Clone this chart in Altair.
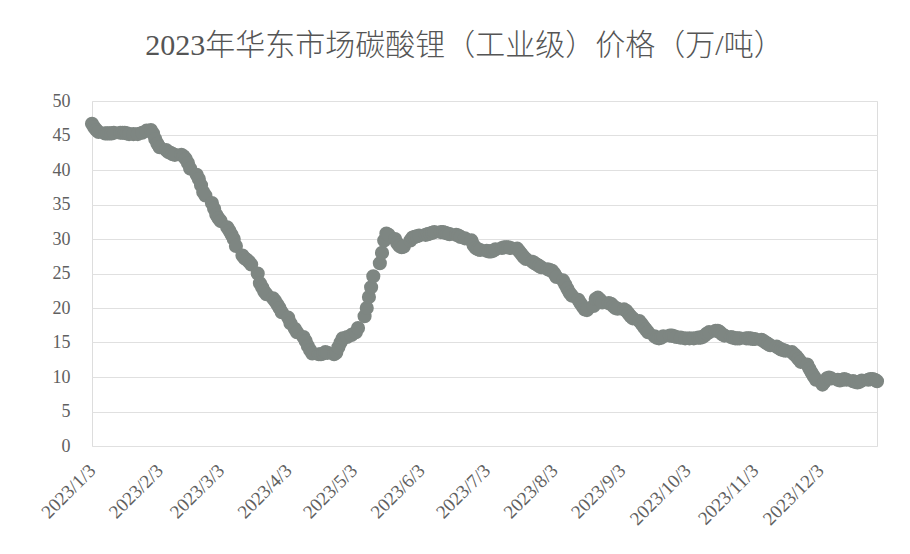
import altair as alt
import pandas as pd

TITLE = "2023年华东市场碳酸锂（工业级）价格（万/吨）"

# days (day of month) and prices (万元/吨) per month
days_01 = [3, 4, 5, 6, 9, 10, 11, 12, 13, 16, 17, 18, 19, 20, 22, 24, 26, 28, 30, 31]
vals_01 = [46.7, 46.2, 45.8, 45.5, 45.3, 45.3, 45.3, 45.3, 45.4, 45.4, 45.4, 45.4, 45.3, 45.2, 45.2, 45.2, 45.4, 45.7, 45.8, 45.3]

days_02 = [1, 2, 3, 6, 7, 8, 9, 10, 13, 14, 15, 16, 17, 20, 21, 22, 23, 24, 27, 28]
vals_02 = [44.5, 43.8, 43.3, 42.9, 42.6, 42.5, 42.3, 42.2, 42.2, 42.0, 41.6, 41.0, 40.2, 39.3, 38.7, 37.8, 36.8, 36.3, 35.2, 34.4]

days_03 = [1, 2, 3, 6, 7, 8, 9, 10, 13, 14, 15, 16, 17, 20, 21, 22, 23, 24, 27, 28, 29, 30, 31]
vals_03 = [33.5, 33.0, 32.6, 31.7, 31.2, 30.6, 30.0, 29.0, 27.6, 27.2, 27.0, 26.7, 26.3, 25.0, 23.6, 23.0, 22.4, 22.0, 21.4, 21.0, 20.5, 20.0, 19.4]

days_04 = [3, 4, 6, 7, 10, 11, 12, 13, 14, 17, 18, 19, 20, 21, 24, 25, 26, 27, 28, 30]
vals_04 = [18.6, 17.8, 17.0, 16.5, 15.8, 15.2, 14.5, 13.9, 13.4, 13.3, 13.3, 13.4, 13.6, 13.5, 13.3, 13.5, 14.3, 15.0, 15.6, 15.8]

days_05 = [2, 4, 5, 8, 9, 10, 11, 12, 15, 16, 17, 18, 19, 22, 23, 24, 25, 26, 29, 30, 31]
vals_05 = [16.1, 16.5, 17.1, 18.8, 20.0, 21.6, 23.0, 24.6, 26.5, 28.0, 29.8, 30.8, 30.6, 30.0, 29.4, 29.0, 28.8, 28.9, 29.8, 30.2, 30.3]

days_06 = [1, 2, 5, 6, 7, 8, 9, 12, 13, 14, 15, 16, 19, 20, 21, 23, 26, 27, 28, 29, 30]
vals_06 = [30.4, 30.5, 30.6, 30.7, 30.8, 30.9, 31.0, 31.0, 31.0, 30.9, 30.8, 30.7, 30.6, 30.5, 30.3, 30.1, 29.8, 29.1, 28.7, 28.5, 28.4]

days_07 = [3, 4, 5, 6, 7, 10, 11, 12, 13, 14, 17, 18, 19, 20, 21, 24, 25, 26, 27, 28, 31]
vals_07 = [28.3, 28.2, 28.2, 28.3, 28.5, 28.7, 28.8, 28.8, 28.8, 28.7, 28.6, 28.2, 27.8, 27.4, 27.1, 26.7, 26.5, 26.3, 26.1, 25.9, 25.6]

days_08 = [1, 2, 3, 4, 7, 8, 9, 10, 11, 14, 15, 16, 17, 18, 21, 22, 23, 24, 25, 28, 29, 30, 31]
vals_08 = [25.5, 25.4, 25.0, 24.5, 24.0, 23.4, 22.8, 22.2, 21.8, 21.2, 20.7, 20.2, 19.8, 19.7, 20.3, 21.3, 21.5, 21.2, 20.8, 20.7, 20.6, 20.3, 20.0]

days_09 = [1, 4, 5, 6, 7, 8, 11, 12, 13, 14, 15, 18, 19, 20, 21, 22, 25, 26, 27, 28, 30]
vals_09 = [19.9, 19.8, 19.6, 19.2, 18.8, 18.5, 18.1, 17.7, 17.3, 16.9, 16.5, 15.9, 15.7, 15.6, 15.7, 15.9, 16.0, 16.0, 15.9, 15.8, 15.7]

days_10 = [2, 4, 6, 8, 9, 10, 11, 12, 13, 16, 17, 18, 19, 20, 23, 24, 25, 26, 27, 30, 31]
vals_10 = [15.6, 15.6, 15.6, 15.7, 15.7, 15.8, 16.0, 16.3, 16.5, 16.7, 16.7, 16.5, 16.2, 16.0, 15.8, 15.7, 15.6, 15.6, 15.6, 15.6, 15.6]

days_11 = [1, 2, 3, 6, 7, 8, 9, 10, 13, 14, 15, 16, 17, 20, 21, 22, 23, 24, 27, 28, 29, 30]
vals_11 = [15.6, 15.5, 15.5, 15.4, 15.2, 15.0, 14.8, 14.6, 14.4, 14.2, 14.0, 13.9, 13.8, 13.6, 13.3, 13.0, 12.6, 12.2, 11.8, 11.2, 10.6, 10.1]

days_12 = [1, 4, 5, 6, 7, 8, 11, 12, 13, 14, 15, 18, 19, 20, 21, 22, 25, 26, 27, 28, 29]
vals_12 = [9.6, 8.9, 9.3, 9.8, 9.9, 9.8, 9.6, 9.5, 9.6, 9.7, 9.6, 9.4, 9.3, 9.2, 9.3, 9.5, 9.6, 9.7, 9.7, 9.6, 9.4]

tick_months = list(range(1, 13))
tick_day = 3
y_ticks = [0, 5, 10, 15, 20, 25, 30, 35, 40, 45, 50]

months = [
    (1, days_01, vals_01), (2, days_02, vals_02), (3, days_03, vals_03),
    (4, days_04, vals_04), (5, days_05, vals_05), (6, days_06, vals_06),
    (7, days_07, vals_07), (8, days_08, vals_08), (9, days_09, vals_09),
    (10, days_10, vals_10), (11, days_11, vals_11), (12, days_12, vals_12),
]
rows = []
for m, ds, vs in months:
    for d, v in zip(ds, vs):
        rows.append({"date": f"2023-{m:02d}-{d:02d}", "price": v})
df = pd.DataFrame(rows)

first = rows[0]["date"].split("-")
last = rows[-1]["date"].split("-")
x_domain = [
    alt.DateTime(year=2023, month=int(first[1]), date=int(first[2]), utc=True),
    alt.DateTime(year=2023, month=int(last[1]), date=int(last[2]), utc=True),
]
x_values = [alt.DateTime(year=2023, month=m, date=tick_day, utc=True) for m in tick_months]

SERIF = "Liberation Serif, Times New Roman, Noto Sans CJK SC"

chart = (
    alt.Chart(df)
    .mark_circle(size=200, opacity=1, color="#7e8682")
    .encode(
        x=alt.X(
            "date:T",
            scale=alt.Scale(type="utc", domain=x_domain),
            axis=alt.Axis(
                values=x_values,
                labelExpr="utcFormat(datum.value, '%Y/%-m/%-d')",
                labelAngle=-45,
                labelAlign="right",
                labelBaseline="middle",
                labelPadding=21,
                labelFontSize=19,
                labelFont=SERIF,
                labelColor="#606060",
                grid=False,
                ticks=False,
                domain=False,
                title=None,
                labelOverlap=False,
                labelBound=False,
            ),
        ),
        y=alt.Y(
            "price:Q",
            scale=alt.Scale(domain=[0, 50], nice=False),
            axis=alt.Axis(
                values=y_ticks,
                labelFontSize=18,
                labelFont=SERIF,
                labelColor="#606060",
                labelPadding=22,
                ticks=False,
                domain=False,
                grid=True,
                gridColor="#e0e0e0",
                gridWidth=1,
                title=None,
            ),
        ),
    )
    .properties(
        width=785,
        height=345,
        title=alt.TitleParams(
            TITLE,
            font=SERIF,
            fontSize=30,
            fontWeight=300,
            color="#555555",
            anchor="middle",
            dx=-20,
            offset=31,
        ),
        autosize=alt.AutoSizeParams(type="none"),
        padding={"left": 84, "top": 93, "right": 25, "bottom": 90},
    )
    .configure_view(stroke=None)
    .configure(background="white")
)

chart.save("out.html", embed_options={"renderer": "svg", "actions": False})
